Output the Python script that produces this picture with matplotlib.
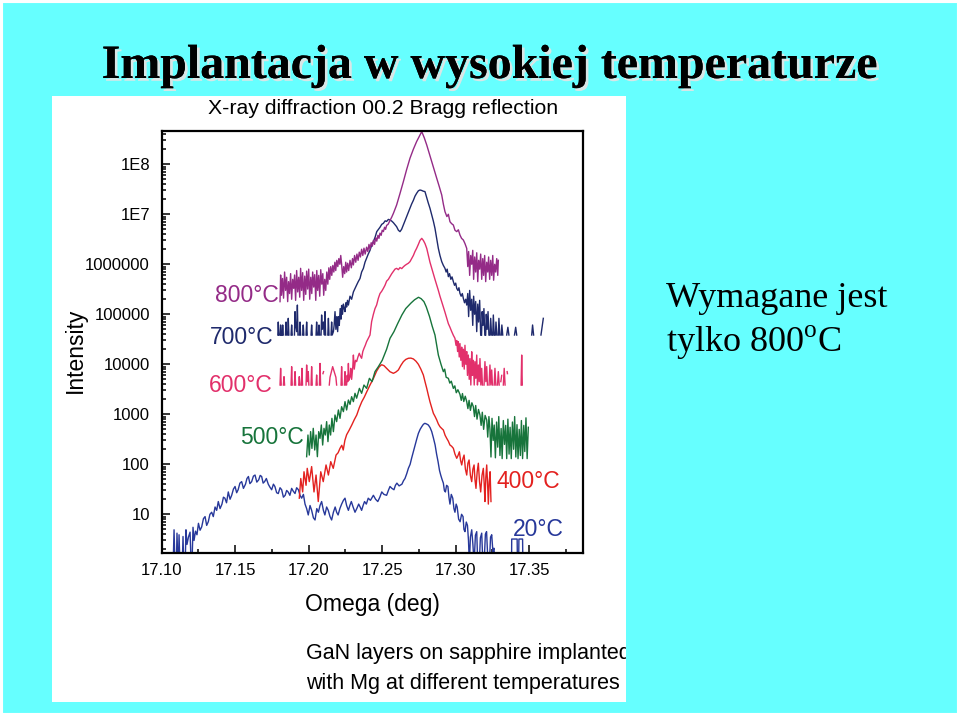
import numpy as np
import matplotlib
matplotlib.use("Agg")
import matplotlib.pyplot as plt
from matplotlib import patheffects
from matplotlib.patches import Rectangle
from matplotlib.ticker import LogLocator, NullFormatter

nan = float("nan")

# XRD omega scans, (omega [deg], intensity).
# nan = zero counts (gap in the log plot)
xrd_20 = [
    (17.1078, 1), (17.1084, 4.9), (17.1090, 1), (17.1100, 1), (17.1104, 4.2), (17.1110, 1),
    (17.1114, 1), (17.1118, 3.9), (17.1124, 1), (17.1140, 1), (17.1145, 3.6), (17.1150, 1),
    (17.1160, 1), (17.1165, 4.9), (17.1172, 2.5), (17.1182, 3.5), (17.1193, 4.4), (17.1200, 1),
    (17.1206, 1), (17.1213, 5.5), (17.1220, 3.0), (17.1230, 4.6), (17.1240, 3.9),
    (17.1250, 6.6), (17.1261, 4.8), (17.1272, 5.6), (17.1284, 8.2), (17.1295, 9.0), (17.1306, 6.0),
    (17.1317, 7.1), (17.1328, 10), (17.1340, 11), (17.1351, 9), (17.1363, 14), (17.1374, 12),
    (17.1385, 18), (17.1397, 13), (17.1410, 16), (17.1420, 22), (17.1430, 21), (17.1441, 17),
    (17.1453, 28), (17.1465, 20), (17.1476, 24), (17.1488, 32), (17.1499, 36), (17.1510, 27),
    (17.1520, 31), (17.1532, 42), (17.1544, 45), (17.1556, 33), (17.1570, 40), (17.1580, 52),
    (17.1590, 57), (17.1600, 41), (17.1612, 45), (17.1624, 58), (17.1635, 61), (17.1647, 44),
    (17.1660, 49), (17.1670, 60), (17.1680, 57), (17.1690, 42), (17.1700, 45), (17.1712, 52),
    (17.1725, 40), (17.1736, 35), (17.1748, 31), (17.1760, 40), (17.1770, 36), (17.1782, 27),
    (17.1793, 26), (17.1805, 34), (17.1816, 31), (17.1828, 22), (17.1840, 24), (17.1850, 30),
    (17.1860, 28), (17.1872, 24), (17.1884, 33), (17.1895, 29), (17.1907, 26), (17.1918, 34),
    (17.1930, 31), (17.1941, 24), (17.1952, 21), (17.1964, 25), (17.1975, 16), (17.1986, 13),
    (17.1997, 9.7), (17.2009, 15), (17.2020, 12), (17.2032, 8.5), (17.2043, 7.7), (17.2055, 13),
    (17.2066, 11), (17.2077, 15), (17.2088, 18), (17.2100, 12), (17.2110, 9.7), (17.2122, 14),
    (17.2133, 12), (17.2145, 9), (17.2156, 7.7), (17.2168, 11), (17.2180, 14), (17.2190, 11),
    (17.2200, 9.7), (17.2212, 13), (17.2224, 16), (17.2236, 19), (17.2247, 21), (17.2258, 15),
    (17.2270, 12), (17.2280, 15), (17.2290, 18), (17.2302, 14), (17.2315, 11), (17.2327, 13),
    (17.2340, 16), (17.2350, 14), (17.2360, 12), (17.2370, 15), (17.2380, 18), (17.2392, 16),
    (17.2405, 21), (17.2420, 19), (17.2440, 24), (17.2455, 20), (17.2470, 18), (17.2484, 22),
    (17.2497, 28), (17.2512, 25), (17.2530, 24), (17.2542, 30), (17.2553, 36), (17.2566, 33),
    (17.2580, 31), (17.2590, 38), (17.2600, 42), (17.2615, 37), (17.2634, 40), (17.2645, 47),
    (17.2655, 52), (17.2667, 65), (17.2678, 83), (17.2690, 100), (17.2700, 132), (17.2712, 180),
    (17.2723, 243), (17.2735, 320), (17.2746, 414), (17.2758, 500), (17.2769, 566), (17.2780, 630),
    (17.2790, 660), (17.2802, 640), (17.2814, 610), (17.2826, 540), (17.2837, 450), (17.2848, 340),
    (17.2860, 243), (17.2870, 160), (17.2880, 113), (17.2890, 75), (17.2898, 61), (17.2907, 50),
    (17.2916, 42), (17.2923, 30), (17.2930, 28), (17.2938, 38), (17.2947, 36), (17.2954, 22),
    (17.2961, 16), (17.2970, 25), (17.2980, 21), (17.2988, 13), (17.2995, 11), (17.3003, 16),
    (17.3010, 14), (17.3020, 8), (17.3030, 7.1), (17.3040, 10), (17.3050, 9), (17.3056, 5),
    (17.3063, 4.5), (17.3072, 7), (17.3080, 6), (17.3087, 3), (17.3093, 1), (17.3100, 3.5),
    (17.3109, 4.9), (17.3117, 2.5), (17.3125, 1), (17.3134, 3.8), (17.3143, 4.5), (17.3150, 1),
    (17.3160, 1), (17.3168, 3.4), (17.3177, 4.2), (17.3185, 1), (17.3193, 1), (17.3202, 4),
    (17.3210, 4.5), (17.3220, 1), (17.3229, 1), (17.3237, 3.5), (17.3245, 3.9), (17.3253, 1.8),
    (17.3260, 2.1), (17.3270, 1), (17.3380, 1), (17.3381, 3.2), (17.3418, 3.2), (17.3420, 1),
    (17.3428, 1), (17.3430, 3.2), (17.3455, 3.2), (17.3457, 1),
]

xrd_400 = [
    (17.1936, 21), (17.1946, 52), (17.1959, 28), (17.1968, 71), (17.1982, 38), (17.1990, 83),
    (17.2004, 45), (17.2020, 90), (17.2036, 28), (17.2050, 61), (17.2065, 18), (17.2082, 71),
    (17.2099, 45), (17.2118, 97), (17.2134, 61), (17.2150, 113), (17.2167, 83), (17.2186, 153),
    (17.2200, 170), (17.2213, 209), (17.2225, 240), (17.2235, 193), (17.2246, 300), (17.2258, 390),
    (17.2275, 480), (17.2293, 610), (17.2310, 780), (17.2327, 970), (17.2344, 1350), (17.2361, 1780),
    (17.2378, 2200), (17.2395, 2820), (17.2418, 3900), (17.2440, 5200), (17.2462, 7300), (17.2480, 8900),
    (17.2496, 9800), (17.2512, 9400), (17.2530, 8300), (17.2553, 7100), (17.2576, 6600), (17.2593, 7000),
    (17.2610, 7700), (17.2627, 9500), (17.2644, 11300), (17.2660, 12500), (17.2678, 13200), (17.2695, 13300),
    (17.2712, 12800), (17.2730, 11500), (17.2746, 10000), (17.2763, 8000), (17.2780, 6100), (17.2792, 4400),
    (17.2803, 3300), (17.2814, 2400), (17.2825, 1780), (17.2837, 1350), (17.2848, 1050), (17.2860, 900),
    (17.2871, 770), (17.2882, 640), (17.2893, 565), (17.2905, 520), (17.2916, 485), (17.2928, 380),
    (17.2939, 330), (17.2950, 290), (17.2961, 243), (17.2972, 230), (17.2984, 209), (17.2995, 160),
    (17.3007, 132), (17.3016, 150), (17.3025, 178), (17.3033, 120), (17.3041, 97), (17.3049, 130),
    (17.3057, 153), (17.3066, 80), (17.3075, 61), (17.3083, 105), (17.3091, 122), (17.3100, 60),
    (17.3109, 45), (17.3117, 80), (17.3125, 97), (17.3131, 50), (17.3138, 33), (17.3146, 70),
    (17.3154, 105), (17.3162, 45), (17.3170, 28), (17.3179, 60), (17.3188, 83), (17.3194, 40),
    (17.3199, 18), (17.3205, 55), (17.3211, 97), (17.3217, 40), (17.3222, 16), (17.3228, 45),
    (17.3234, 71), (17.3240, 18),
]

xrd_500 = [
    (17.1986, 142), (17.1995, 385), (17.2004, 153), (17.2013, 450), (17.2022, 208), (17.2031, 524),
    (17.2041, 193), (17.2050, 385), (17.2059, 142), (17.2068, 450), (17.2077, 330), (17.2086, 611),
    (17.2095, 243), (17.2104, 524), (17.2113, 385), (17.2122, 713), (17.2131, 284), (17.2140, 611),
    (17.2149, 385), (17.2158, 830), (17.2168, 450), (17.2179, 968), (17.2190, 713), (17.2202, 1220),
    (17.2213, 830), (17.2224, 1420), (17.2236, 1130), (17.2247, 1790), (17.2258, 1220), (17.2270, 1930),
    (17.2281, 1580), (17.2292, 2250), (17.2304, 1790), (17.2315, 2630), (17.2326, 2100), (17.2345, 3300),
    (17.2360, 2630), (17.2376, 3850), (17.2394, 3300), (17.2413, 5240), (17.2431, 4500), (17.2451, 7130),
    (17.2474, 8970), (17.2500, 12000), (17.2530, 20000), (17.2553, 33000), (17.2580, 45000),
    (17.2605, 65000), (17.2634, 97000), (17.2660, 130000), (17.2680, 150000), (17.2696, 168000),
    (17.2720, 195000), (17.2747, 219000), (17.2765, 205000), (17.2784, 179000), (17.2800, 140000),
    (17.2822, 90000), (17.2840, 58000), (17.2859, 38500), (17.2882, 15300), (17.2900, 10000),
    (17.2916, 7130), (17.2925, 8000), (17.2935, 5500), (17.2950, 5240), (17.2960, 4200), (17.2970, 4600),
    (17.2984, 3300), (17.2994, 3700), (17.3004, 2700), (17.3015, 3100), (17.3029, 2500), (17.3038, 1900),
    (17.3046, 2600), (17.3055, 1800), (17.3065, 2300), (17.3075, 1790), (17.3083, 1300), (17.3091, 1900),
    (17.3100, 1200), (17.3110, 1700), (17.3120, 1420), (17.3128, 900), (17.3136, 1500), (17.3145, 800),
    (17.3155, 1250), (17.3165, 968), (17.3173, 600), (17.3181, 1100), (17.3190, 500), (17.3200, 950),
    (17.3211, 770), (17.3218, 350), (17.3226, 900), (17.3233, 500), (17.3240, 140), (17.3247, 830),
    (17.3255, 300), (17.3262, 610), (17.3270, 135), (17.3278, 700), (17.3286, 220), (17.3293, 900),
    (17.3301, 150), (17.3309, 520), (17.3316, 130), (17.3324, 750), (17.3332, 250), (17.3340, 600),
    (17.3347, 130), (17.3355, 800), (17.3363, 160), (17.3370, 550), (17.3378, 130), (17.3386, 700),
    (17.3394, 200), (17.3401, 900), (17.3409, 140), (17.3417, 620), (17.3424, 130), (17.3432, 500),
    (17.3440, 150), (17.3447, 750), (17.3455, 130), (17.3463, 600), (17.3470, 180), (17.3478, 850),
    (17.3486, 130), (17.3494, 550),
]

xrd_600 = [
    (17.1805, 3850), (17.1809, 8300), (17.1813, 3850), (17.1816, nan),
    (17.1828, 3850), (17.1832, 5660), (17.1836, 3850), (17.1840, nan),
    (17.1880, 3850), (17.1884, 8970), (17.1888, 3850), (17.1892, nan),
    (17.1903, 3850), (17.1907, 7130), (17.1911, 3850), (17.1915, nan),
    (17.1932, 3850), (17.1936, 5660), (17.1940, 3850), (17.1943, nan),
    (17.1950, 3850), (17.1954, 8300), (17.1958, 3850), (17.1962, nan),
    (17.1982, 3850), (17.1986, 9680), (17.1991, 4500), (17.1997, 7130), (17.2001, 3850), (17.2005, nan),
    (17.2016, 3850), (17.2020, 8970), (17.2024, 3850), (17.2028, nan),
    (17.2050, 3850), (17.2054, 6110), (17.2058, 3850), (17.2062, nan),
    (17.2073, 3850), (17.2077, 10400), (17.2081, 3850), (17.2085, nan),
    (17.2097, 6500), (17.2101, 7130), (17.2104, nan),
    (17.2140, 3850), (17.2145, 5500), (17.2163, 8970), (17.2185, 5500), (17.2190, 3850), (17.2194, nan),
    (17.2220, 3850), (17.2224, 8970), (17.2228, 3850), (17.2232, nan),
    (17.2243, 3850), (17.2247, 7130), (17.2251, 3850), (17.2258, 3850), (17.2262, 6000), (17.2266, 4500),
    (17.2270, 10400), (17.2274, 4800), (17.2282, 5660), (17.2286, 8300), (17.2292, 5000), (17.2300, 9000),
    (17.2304, 15300), (17.2310, 8000), (17.2318, 12000), (17.2326, 11300), (17.2335, 14000), (17.2344, 16600),
    (17.2352, 14500), (17.2360, 13200), (17.2368, 18000), (17.2376, 20800), (17.2385, 24000), (17.2394, 28400),
    (17.2405, 33000), (17.2417, 38500), (17.2428, 71300), (17.2440, 100000), (17.2451, 130000),
    (17.2462, 153000), (17.2474, 210000), (17.2485, 260000), (17.2497, 290000), (17.2508, 330000),
    (17.2519, 380000), (17.2530, 460000), (17.2542, 500000), (17.2553, 566000), (17.2565, 650000),
    (17.2576, 720000), (17.2587, 800000), (17.2598, 830000), (17.2610, 780000), (17.2621, 860000),
    (17.2633, 820000), (17.2644, 890000), (17.2655, 950000), (17.2666, 1000000), (17.2678, 1050000),
    (17.2689, 1130000), (17.2700, 1300000), (17.2712, 1500000), (17.2723, 1800000), (17.2734, 2080000),
    (17.2746, 2500000), (17.2757, 3000000), (17.2769, 3300000), (17.2780, 3000000), (17.2791, 2600000),
    (17.2803, 2080000), (17.2814, 1500000), (17.2825, 1100000), (17.2837, 830000), (17.2848, 650000),
    (17.2859, 500000), (17.2871, 385000), (17.2882, 300000), (17.2893, 230000), (17.2905, 179000),
    (17.2916, 140000), (17.2927, 110000), (17.2939, 83000), (17.2950, 65000), (17.2961, 55000),
    (17.2973, 45000), (17.2984, 38000), (17.2995, 33000), (17.3002, 24000), (17.3007, 30000),
    (17.3013, 18000), (17.3018, 28400), (17.3024, 14000), (17.3029, 26000), (17.3035, 12000),
    (17.3041, 22000), (17.3046, 9000), (17.3052, 20000), (17.3058, 8000), (17.3063, 24000),
    (17.3069, 10000), (17.3075, 18000), (17.3080, 6000), (17.3086, 15300), (17.3092, 5000),
    (17.3097, 13000), (17.3103, 3850), (17.3109, 17800), (17.3114, 6000), (17.3120, 12000),
    (17.3126, 3850), (17.3131, 11300), (17.3137, 5240), (17.3143, 15300), (17.3148, 3850),
    (17.3154, 9680), (17.3160, 4500), (17.3165, 13000), (17.3171, 3850), (17.3177, 8300),
    (17.3182, 3850), (17.3187, nan),
    (17.3193, 3850), (17.3199, 11300), (17.3205, 4500), (17.3211, 9000), (17.3216, 3850), (17.3221, nan),
    (17.3227, 3850), (17.3233, 9680), (17.3239, 3850), (17.3245, 7700), (17.3250, 3850), (17.3255, nan),
    (17.3262, 3850), (17.3267, 8300), (17.3273, 3850), (17.3278, nan),
    (17.3284, 3850), (17.3290, 7130), (17.3296, 3850), (17.3300, nan),
    (17.3307, 4500), (17.3313, 6000), (17.3318, nan),
    (17.3324, 3850), (17.3330, 8300), (17.3336, 3850), (17.3340, nan),
    (17.3350, 7130), (17.3352, 6500), (17.3355, nan),
    (17.3445, 3850), (17.3449, 15300), (17.3453, 3850),
]

xrd_700 = [
    (17.1790, 38500), (17.1793, 70000), (17.1797, 38500), (17.1800, nan),
    (17.1806, 38500), (17.1809, 61100), (17.1813, 38500), (17.1816, nan),
    (17.1820, 38500), (17.1823, 61100), (17.1827, 38500), (17.1830, nan),
    (17.1842, 38500), (17.1846, 70000), (17.1850, 38500), (17.1858, 38500), (17.1861, 83000),
    (17.1865, 38500), (17.1870, nan),
    (17.1880, 38500), (17.1884, 61100), (17.1888, 38500), (17.1895, nan),
    (17.1903, 38500), (17.1907, 113000), (17.1911, 61100), (17.1918, 45000), (17.1923, 153000),
    (17.1927, 38500), (17.1930, nan),
    (17.1937, 38500), (17.1941, 70000), (17.1945, 38500), (17.1950, nan),
    (17.1959, 38500), (17.1963, 61100), (17.1967, 38500), (17.1975, nan),
    (17.1982, 38500), (17.1986, 70000), (17.1990, 38500), (17.2000, nan),
    (17.2016, 38500), (17.2020, 61100), (17.2024, 38500), (17.2035, nan),
    (17.2050, 38500), (17.2054, 70000), (17.2058, 38500), (17.2066, 38500), (17.2070, 61100),
    (17.2074, 38500), (17.2078, nan),
    (17.2084, 38500), (17.2088, 96800), (17.2092, 50000), (17.2100, 70000), (17.2107, 38500),
    (17.2111, 113000), (17.2115, 38500), (17.2120, nan),
    (17.2130, 38500), (17.2134, 83000), (17.2138, 38500), (17.2145, nan),
    (17.2152, 38500), (17.2156, 70000), (17.2160, 38500), (17.2168, 45000), (17.2173, 60000),
    (17.2179, 113000), (17.2185, 50000), (17.2191, 90000), (17.2197, 45000), (17.2202, 90000),
    (17.2208, 60000), (17.2214, 130000), (17.2220, 80000), (17.2224, 150000), (17.2230, 100000),
    (17.2236, 160000), (17.2242, 130000), (17.2247, 113000), (17.2253, 170000), (17.2258, 140000),
    (17.2264, 190000), (17.2270, 153000), (17.2281, 230000), (17.2292, 200000), (17.2304, 280000),
    (17.2315, 330000), (17.2326, 385000), (17.2337, 450000), (17.2349, 520000), (17.2360, 700000),
    (17.2372, 830000), (17.2383, 1100000), (17.2394, 1320000), (17.2405, 1600000), (17.2417, 1900000),
    (17.2428, 2400000), (17.2440, 2840000), (17.2452, 3500000), (17.2463, 4500000), (17.2475, 5000000),
    (17.2485, 5500000), (17.2497, 6300000), (17.2508, 6600000), (17.2520, 7400000), (17.2530, 7200000),
    (17.2542, 7900000), (17.2553, 7700000), (17.2565, 7300000), (17.2576, 6800000), (17.2587, 6200000),
    (17.2598, 5660000), (17.2610, 4800000), (17.2621, 4500000), (17.2632, 5000000), (17.2644, 6100000),
    (17.2655, 7400000), (17.2666, 9000000), (17.2678, 11000000), (17.2689, 13200000), (17.2700, 16000000),
    (17.2712, 19000000), (17.2723, 23000000), (17.2734, 26200000), (17.2746, 29500000), (17.2757, 30600000),
    (17.2768, 30000000), (17.2779, 29000000), (17.2791, 28400000), (17.2802, 22000000), (17.2813, 17000000),
    (17.2825, 13200000), (17.2836, 10000000), (17.2848, 7300000), (17.2859, 5240000), (17.2870, 3400000),
    (17.2882, 2080000), (17.2893, 1500000), (17.2905, 1130000), (17.2916, 950000), (17.2927, 830000),
    (17.2935, 700000), (17.2942, 800000), (17.2950, 566000), (17.2958, 650000), (17.2967, 500000),
    (17.2975, 560000), (17.2984, 450000), (17.2992, 380000), (17.3000, 420000), (17.3007, 330000),
    (17.3015, 300000), (17.3022, 340000), (17.3029, 262000), (17.3037, 230000), (17.3045, 260000),
    (17.3052, 208000), (17.3060, 170000), (17.3068, 200000), (17.3075, 153000), (17.3082, 260000),
    (17.3088, 90000), (17.3095, 300000), (17.3102, 120000), (17.3109, 200000), (17.3116, 60000),
    (17.3122, 230000), (17.3129, 100000), (17.3136, 180000), (17.3143, 45000), (17.3150, 160000),
    (17.3156, 70000), (17.3163, 190000), (17.3170, 38500), (17.3173, nan),
    (17.3176, 38500), (17.3180, 113000), (17.3186, 60000), (17.3192, 130000), (17.3198, 38500), (17.3201, nan),
    (17.3204, 38500), (17.3208, 100000), (17.3214, 50000), (17.3220, 113000), (17.3226, 38500), (17.3230, nan),
    (17.3234, 38500), (17.3238, 83000), (17.3244, 38500), (17.3248, nan),
    (17.3252, 38500), (17.3256, 96800), (17.3262, 38500), (17.3266, nan),
    (17.3270, 38500), (17.3274, 70000), (17.3280, 38500), (17.3285, nan),
    (17.3290, 38500), (17.3294, 83000), (17.3300, 38500), (17.3305, nan),
    (17.3310, 38500), (17.3314, 61100), (17.3320, 38500), (17.3325, nan),
    (17.3347, 38500), (17.3355, 55000), (17.3362, 38500), (17.3366, nan),
    (17.3400, 38500), (17.3408, 55000), (17.3415, 38500), (17.3420, nan),
    (17.3517, 38500), (17.3523, 61100), (17.3530, 38500), (17.3535, nan),
    (17.3580, 38500), (17.3590, 61100), (17.3596, 83000),
]

xrd_800 = [
    (17.1805, 179000), (17.1809, 610000), (17.1815, 240000), (17.1822, 520000), (17.1829, 210000),
    (17.1836, 700000), (17.1843, 300000), (17.1850, 550000), (17.1857, 179000), (17.1863, 450000),
    (17.1870, 260000), (17.1877, 650000), (17.1884, 200000), (17.1891, 500000), (17.1898, 330000),
    (17.1904, 610000), (17.1911, 190000), (17.1918, 750000), (17.1925, 280000), (17.1932, 550000),
    (17.1939, 220000), (17.1945, 830000), (17.1952, 300000), (17.1959, 680000), (17.1966, 190000),
    (17.1973, 580000), (17.1980, 250000), (17.1986, 730000), (17.1993, 320000), (17.2000, 800000),
    (17.2007, 200000), (17.2014, 550000), (17.2021, 260000), (17.2027, 700000), (17.2034, 350000),
    (17.2041, 620000), (17.2048, 190000), (17.2055, 750000), (17.2061, 300000), (17.2068, 600000),
    (17.2075, 230000), (17.2082, 780000), (17.2089, 400000), (17.2096, 650000), (17.2102, 240000),
    (17.2109, 500000), (17.2116, 300000), (17.2123, 700000), (17.2130, 400000), (17.2137, 850000),
    (17.2143, 500000), (17.2150, 900000), (17.2157, 600000), (17.2164, 950000), (17.2171, 700000),
    (17.2178, 1100000), (17.2184, 750000), (17.2191, 1200000), (17.2198, 900000), (17.2205, 1300000),
    (17.2212, 1000000), (17.2218, 1500000), (17.2224, 1000000), (17.2231, 550000), (17.2238, 900000),
    (17.2245, 650000), (17.2252, 1100000), (17.2258, 700000), (17.2265, 1050000), (17.2272, 750000),
    (17.2281, 1200000), (17.2290, 850000), (17.2298, 1300000), (17.2304, 970000), (17.2312, 1500000),
    (17.2320, 1100000), (17.2328, 1600000), (17.2336, 1200000), (17.2344, 1750000), (17.2352, 1400000),
    (17.2360, 2000000), (17.2368, 1500000), (17.2376, 2100000), (17.2384, 1600000), (17.2394, 2200000),
    (17.2402, 1800000), (17.2410, 2500000), (17.2417, 2000000), (17.2425, 2700000), (17.2433, 2300000),
    (17.2440, 3000000), (17.2448, 2500000), (17.2456, 3400000), (17.2463, 2900000), (17.2471, 3800000),
    (17.2478, 3300000), (17.2485, 4200000), (17.2493, 3800000), (17.2500, 4800000), (17.2508, 4500000),
    (17.2516, 5500000), (17.2523, 5000000), (17.2530, 6000000), (17.2540, 6300000), (17.2553, 7500000),
    (17.2565, 8800000), (17.2576, 10400000), (17.2598, 15300000), (17.2621, 26000000), (17.2644, 45000000),
    (17.2666, 78000000), (17.2689, 132000000), (17.2712, 200000000), (17.2734, 284000000),
    (17.2752, 360000000), (17.2769, 450000000), (17.2786, 340000000), (17.2803, 243000000),
    (17.2820, 165000000), (17.2837, 113000000), (17.2854, 77000000), (17.2871, 52400000),
    (17.2888, 36000000), (17.2905, 24300000), (17.2916, 16000000), (17.2927, 11300000),
    (17.2940, 9000000), (17.2950, 10000000), (17.2961, 7100000), (17.2972, 6500000), (17.2984, 6100000),
    (17.2995, 4800000), (17.3007, 4500000), (17.3018, 4900000), (17.3029, 3850000), (17.3040, 3300000),
    (17.3052, 3060000), (17.3063, 2600000), (17.3075, 2080000), (17.3082, 900000), (17.3088, 1800000),
    (17.3095, 600000), (17.3102, 1500000), (17.3109, 1000000), (17.3116, 1900000), (17.3122, 500000),
    (17.3129, 1400000), (17.3136, 700000), (17.3143, 1700000), (17.3150, 450000), (17.3156, 1200000),
    (17.3163, 800000), (17.3170, 1600000), (17.3177, 500000), (17.3184, 1300000), (17.3190, 600000),
    (17.3197, 1500000), (17.3204, 450000), (17.3211, 1100000), (17.3218, 700000), (17.3224, 1400000),
    (17.3231, 500000), (17.3238, 1200000), (17.3245, 600000), (17.3252, 1500000), (17.3258, 480000),
    (17.3265, 1000000), (17.3272, 700000), (17.3279, 1300000), (17.3286, 600000), (17.3290, 1200000),
]

series = [xrd_20, xrd_400, xrd_500, xrd_600, xrd_700, xrd_800]
temps = ["20", "400", "500", "600", "700", "800"]
colors = ["#27389a", "#e3211f", "#17743b", "#e2306b", "#1f2a6c", "#942b87"]

x_ticks = [17.10, 17.15, 17.20, 17.25, 17.30, 17.35]
x_minor = [17.125, 17.175, 17.225, 17.275, 17.325, 17.375]
y_ticks = [10, 100, 1000, 1e4, 1e5, 1e6, 1e7, 1e8]
y_labels = ["10", "100", "1000", "10000", "100000", "1000000", "1E7", "1E8"]

# label boxes (left px, centre py) in the 960x716 picture
label_pos = {"800": (215, 295), "700": (210, 337), "600": (209, 385),
             "500": (240, 437), "400": (496, 481), "20": (513, 530)}

W, H = 960, 716
def fx(px):
    return px / W
def fy(py):
    return 1 - py / H

plt.rcParams["font.family"] = ["Liberation Sans", "DejaVu Sans"]
plt.rcParams["mathtext.fontset"] = "custom"
plt.rcParams["mathtext.rm"] = "Liberation Serif"

fig = plt.figure(figsize=(9.6, 7.16), dpi=100, facecolor="#66ffff")
# thin white rim round the slide
fig.patches.append(Rectangle((0, 0), 1, 1, transform=fig.transFigure, facecolor="none",
                             edgecolor="white", linewidth=4.4))

# white scanned panel
panel = fig.add_axes([fx(52), fy(702), fx(626) - fx(52), fy(96) - fy(702)])
panel.set_facecolor("white")
panel.set_xticks([])
panel.set_yticks([])
for s in panel.spines.values():
    s.set_visible(False)

ax = fig.add_axes([fx(161.7), fy(553.3), fx(583) - fx(161.7), fy(131) - fy(553.3)])
ax.set_facecolor("none")

for data, t, c in zip(series, temps, colors):
    arr = np.array(data, dtype=float)
    ax.plot(arr[:, 0], arr[:, 1], color=c, lw=1.0)
    lx, ly = label_pos[t]
    fig.text(fx(lx), fy(ly), t + "°C", color=c, fontsize=16.5, ha="left", va="center")

ax.set_yscale("log")
ax.set_xlim(17.10, 17.3866)
ax.set_ylim(1.66, 4.63e8)
ax.set_yticks(y_ticks, y_labels)
ax.yaxis.set_minor_locator(LogLocator(base=10, subs=np.arange(2, 10), numticks=20))
ax.yaxis.set_minor_formatter(NullFormatter())
ax.set_xticks(x_ticks, ["%.2f" % v for v in x_ticks])
ax.set_xticks(x_minor, minor=True)
ax.tick_params(which="both", direction="in", top=False, right=False, width=1.1, labelsize=12)
ax.tick_params(which="major", length=6)
ax.tick_params(which="minor", length=3)
ax.tick_params(axis="y", pad=8.5)
ax.tick_params(axis="x", pad=7)
for s in ax.spines.values():
    s.set_linewidth(1.6)

fig.text(fx(383), fy(108), "X-ray diffraction 00.2 Bragg reflection", fontsize=15.3,
         ha="center", va="center")
fig.text(fx(75), fy(350), "Intensity", fontsize=16.5, rotation=90, ha="center", va="center")
fig.text(fx(372), fy(604), "Omega (deg)", fontsize=16.5, ha="center", va="center")
panel.text(fx(306), fy(653), "GaN layers on sapphire implanted", fontsize=15.5,
           transform=fig.transFigure, ha="left", va="center", clip_on=True)
panel.text(fx(306), fy(683), "with Mg at different temperatures", fontsize=15.5,
           transform=fig.transFigure, ha="left", va="center", clip_on=True)

# slide title and side note
fig.text(fx(489), fy(78), "Implantacja w wysokiej temperaturze", family="Liberation Serif",
         fontsize=34.5, fontweight="bold", ha="center", va="baseline",
         path_effects=[patheffects.withSimplePatchShadow(offset=(2, -2), shadow_rgbFace="#d9e6e6", alpha=1),
                       patheffects.Normal()])
fig.text(fx(666), fy(307), "Wymagane jest", family="Liberation Serif", fontsize=26, va="baseline")
fig.text(fx(666), fy(352), "tylko 800$^{\\mathrm{o}}$C", family="Liberation Serif", fontsize=26, va="baseline")

fig.savefig("out.png", dpi=100, facecolor=fig.get_facecolor())
